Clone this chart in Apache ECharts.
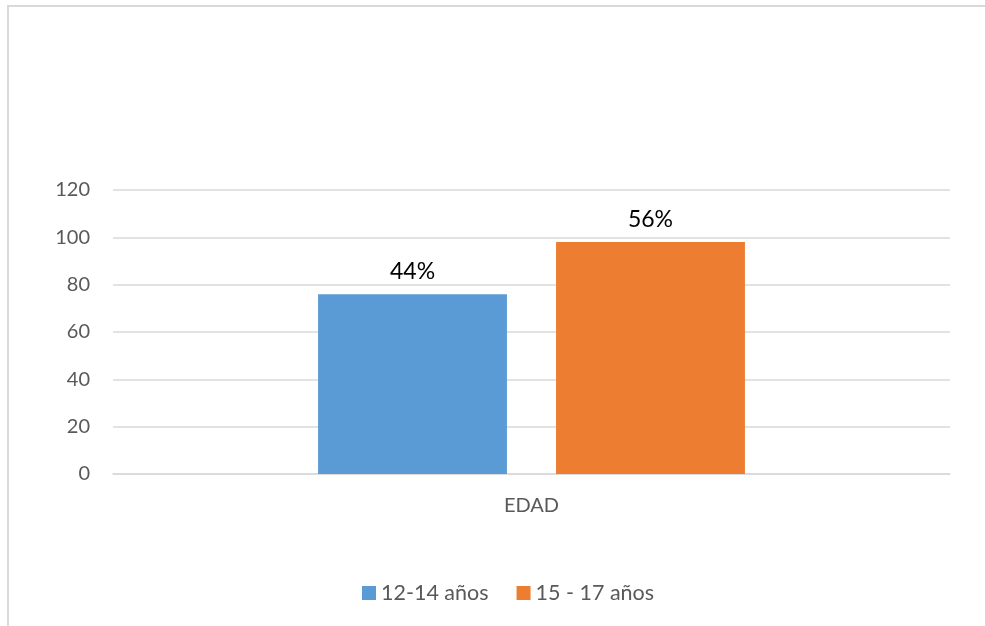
<!DOCTYPE html>
<html>
<head>
<meta charset="utf-8">
<script src="https://cdn.jsdelivr.net/npm/echarts@6/dist/echarts.min.js"></script>
<style>
html,body{margin:0;padding:0;background:#fff;}
#c{width:985px;height:626px;}
</style>
</head>
<body>
<div id="c"></div>
<script>
const categories = ['EDAD'];
const seriesNames = ['12-14 años', '15 - 17 años'];
const values1214 = [76];
const values1517 = [98];
const labels1214 = ['44%'];
const labels1517 = ['56%'];
const yTicks = { min: 0, max: 120, interval: 20 };

const chart = echarts.init(document.getElementById('c'));
const font = 'Lato, "Liberation Sans", sans-serif';
function mkSeries(name, data, labels, color) {
  return {
    name: name,
    type: 'bar',
    data: data,
    barGap: '26%',
    barCategoryGap: '49%',
    itemStyle: { color: color },
    label: {
      show: true,
      position: 'top',
      distance: 11,
      fontFamily: font,
      fontSize: 23,
      color: '#000',
      formatter: function (p) { return labels[p.dataIndex]; }
    }
  };
}
chart.setOption({
  animation: false,
  backgroundColor: '#fff',
  graphic: [{
    type: 'rect',
    shape: { x: 8, y: 6, width: 1000, height: 700 },
    style: { fill: 'none', stroke: '#d9d9d9', lineWidth: 2 },
    silent: true
  }],
  grid: { left: 113, right: 35, top: 190, bottom: 152 },
  legend: {
    bottom: 17,
    left: 357,
    itemWidth: 14,
    itemHeight: 14,
    itemGap: 28,
    icon: 'rect',
    textStyle: { fontFamily: font, fontSize: 21.5, color: '#595959' },
    data: seriesNames
  },
  xAxis: {
    type: 'category',
    data: categories,
    axisLine: { lineStyle: { color: '#d9d9d9', width: 1.5 } },
    axisTick: { show: false },
    axisLabel: { fontFamily: font, fontSize: 20, color: '#595959', margin: 22 }
  },
  yAxis: {
    type: 'value',
    min: yTicks.min, max: yTicks.max, interval: yTicks.interval,
    axisLine: { show: false },
    axisTick: { show: false },
    splitLine: { lineStyle: { color: '#d9d9d9', width: 1.5 } },
    axisLabel: { fontFamily: font, fontSize: 20, color: '#595959', margin: 23 }
  },
  series: [
    mkSeries(seriesNames[0], values1214, labels1214, '#5b9bd5'),
    mkSeries(seriesNames[1], values1517, labels1517, '#ed7d31')
  ]
});
</script>
</body>
</html>
